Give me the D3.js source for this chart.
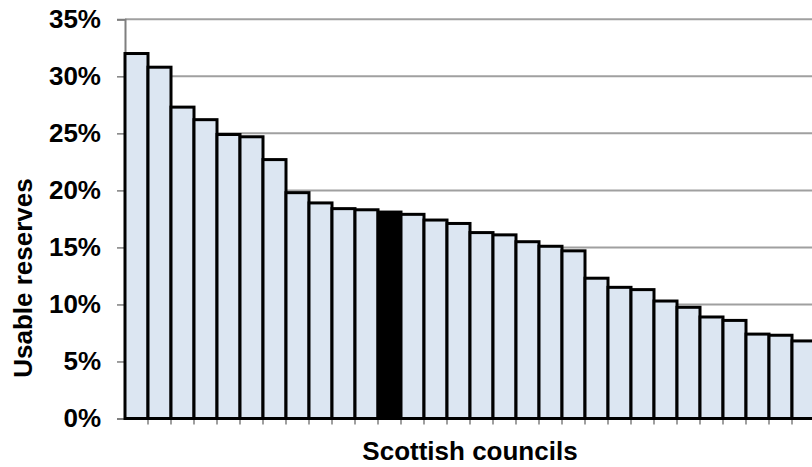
<!DOCTYPE html>
<html>
<head>
<meta charset="utf-8">
<script src="https://cdn.jsdelivr.net/npm/d3@7"></script>
<style>
  html, body { margin: 0; padding: 0; background: #fff; }
  svg { display: block; }
  text { font-family: Arial, "Liberation Sans", sans-serif; font-weight: bold; fill: #000; }
</style>
</head>
<body>
<svg id="chart" width="812" height="467"></svg>
<script>
// Usable reserves as a share of budget, one bar per council, sorted high to low
const councils = d3.range(1, 31).map(i => "Council " + i);
const reserves = [32.0, 30.8, 27.3, 26.2, 24.9, 24.7, 22.7, 19.8, 18.9, 18.4,
                  18.3, 18.1, 17.9, 17.4, 17.1, 16.3, 16.1, 15.5, 15.1, 14.7,
                  12.3, 11.5, 11.3, 10.3, 9.75, 8.9, 8.6, 7.4, 7.3, 6.8];
const highlighted = "Council 12";
const yTicks = [0, 5, 10, 15, 20, 25, 30, 35];

const svg = d3.select("#chart");
const plot = { left: 125, right: 815, top: 19.3, bottom: 418.5 };

const x = d3.scaleBand().domain(councils).range([plot.left, plot.right]).padding(0);
const y = d3.scaleLinear().domain([0, 35]).range([plot.bottom, plot.top]);

// horizontal gridlines
svg.append("g")
  .selectAll("line")
  .data(yTicks.filter(t => t > 0))
  .join("line")
  .attr("x1", plot.left).attr("x2", 812)
  .attr("y1", d => y(d)).attr("y2", d => y(d))
  .attr("stroke", "#a0a0a0").attr("stroke-width", 2);

// y axis
const yAxis = svg.append("g")
  .attr("transform", `translate(${plot.left},0)`)
  .call(d3.axisLeft(y).tickValues(yTicks).tickSize(8).tickPadding(16).tickFormat(d => d + "%"));
yAxis.select(".domain").attr("stroke", "#7f7f7f").attr("stroke-width", 2);
yAxis.selectAll(".tick line").attr("stroke", "#7f7f7f").attr("stroke-width", 1.5);
yAxis.selectAll(".tick text")
  .attr("font-size", 26).attr("font-weight", "bold")
  .attr("font-family", "Arial, 'Liberation Sans', sans-serif")
  .attr("fill", "#000").attr("dy", "0.3em");

// x axis tick marks at category boundaries
svg.append("g")
  .selectAll("line")
  .data(councils)
  .join("line")
  .attr("x1", d => x(d) + x.bandwidth()).attr("x2", d => x(d) + x.bandwidth())
  .attr("y1", plot.bottom).attr("y2", plot.bottom + 6)
  .attr("stroke", "#7f7f7f").attr("stroke-width", 1.5);

// bars
svg.append("g")
  .selectAll("rect")
  .data(councils.map((c, i) => ({ c, v: reserves[i] })))
  .join("rect")
  .attr("x", d => x(d.c))
  .attr("width", x.bandwidth())
  .attr("y", d => y(d.v))
  .attr("height", d => y(0) - y(d.v))
  .attr("fill", d => d.c === highlighted ? "#000" : "#dce6f2")
  .attr("stroke", "#000").attr("stroke-width", 3);

// x axis baseline
svg.append("line")
  .attr("x1", plot.left).attr("x2", 812)
  .attr("y1", plot.bottom).attr("y2", plot.bottom)
  .attr("stroke", "#000").attr("stroke-width", 2);

// axis titles
svg.append("text")
  .attr("x", 470).attr("y", 460)
  .attr("text-anchor", "middle")
  .attr("font-size", 26)
  .text("Scottish councils");

svg.append("text")
  .attr("transform", "translate(32,278) rotate(-90)")
  .attr("text-anchor", "middle")
  .attr("font-size", 26)
  .text("Usable reserves");
</script>
</body>
</html>
